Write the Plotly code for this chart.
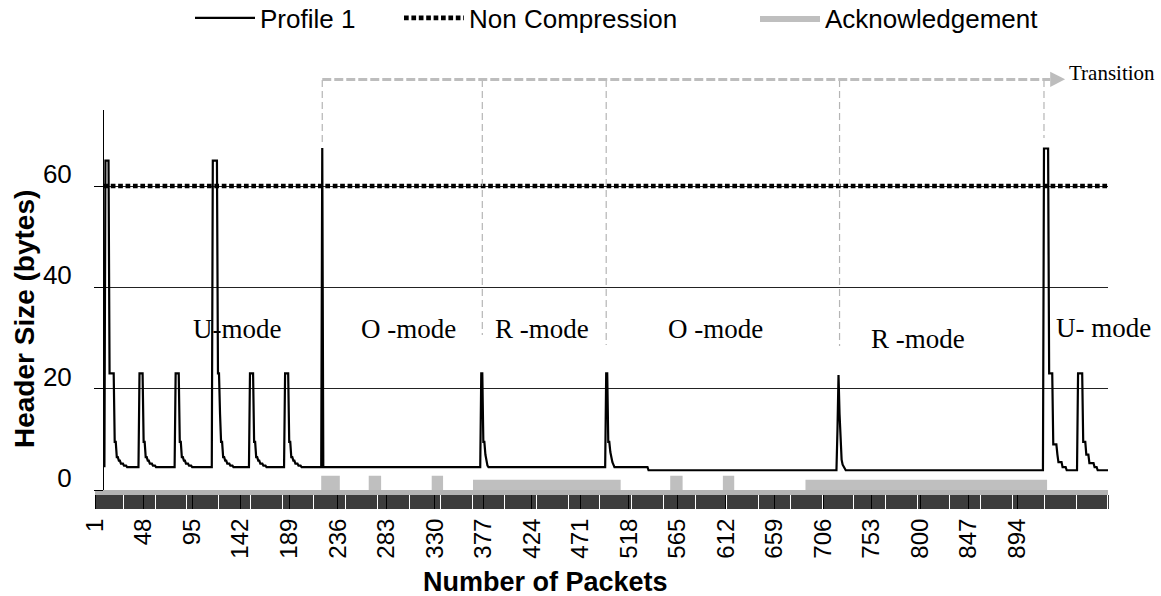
import plotly.graph_objects as go

# ---------------- data ----------------
N_PACKETS = 982
tick_labels = [1, 48, 95, 142, 189, 236, 283, 330, 377, 424, 471, 518,
               565, 612, 659, 706, 753, 800, 847, 894]
y_ticks = [0, 20, 40, 60]

# Profile 1 header size (bytes), run-length: (first packet of run, value)
profile_runs = [
    (10, 4.5), (11, 65), (15, 23), (20, 9.5), (22, 6.5), (24, 5.8), (26, 5.2), (29, 4.8), (32, 4.5),
    (44, 23), (48, 9.5), (50, 6.5), (52, 5.8), (54, 5.2), (57, 4.8), (60, 4.5),
    (79, 23), (83, 9.5), (85, 6.5), (87, 5.8), (89, 5.2), (92, 4.8), (95, 4.5),
    (115, 65), (120, 23), (122, 15), (123, 9.5), (125, 6.5), (127, 5.8), (129, 5.2), (132, 4.8), (135, 4.5),
    (151, 23), (155, 9.5), (157, 6.5), (159, 5.8), (161, 5.2), (164, 4.8), (167, 4.5),
    (185, 23), (189, 9.5), (191, 6.5), (193, 5.8), (195, 5.2), (198, 4.8), (201, 4.5),
    (221, 67.5), (222, 4.5),
    (375, 23), (377, 9.5), (379, 7), (380, 5.5), (381, 4.8), (382, 4.5),
    (496, 23), (498, 9.5), (500, 7.5), (501, 6.2), (502, 5.5), (503, 5.0), (504, 4.5),
    (537, 3.9),
    (720, 12), (721, 22.7), (722, 15), (723, 8), (724, 6), (725, 5), (726, 4.5), (727, 4.2), (728, 3.9),
    (920, 67.4), (925, 23), (929, 9), (933, 7), (934, 5.5), (938, 4.5), (942, 3.9),
    (953, 23), (958, 9.5), (961, 7), (964, 5.3), (969, 4.5), (972, 3.9),
]
NON_COMPRESSION = 60
noncomp_start = 9
# Acknowledgement blocks: (first packet, last packet, level)
ack_blocks = [(220, 237, 2.8), (266, 277, 2.8), (327, 337, 2.8), (367, 509, 2.0),
              (558, 569, 2.8), (609, 619, 2.8), (689, 922, 2.0)]
transitions = [221, 376, 496, 722, 920]
mode_labels = ["U-mode", "O -mode", "R -mode", "O -mode", "R -mode", "U- mode"]
mode_label_packets = [138, 305, 434, 602, 798, 978]
mode_label_values = [31.7, 31.7, 31.7, 31.7, 29.8, 32.0]

# ---------------- build series ----------------
prof_x, prof_y = [], []
run_i = 0
for p in range(profile_runs[0][0], N_PACKETS + 1):
    while run_i + 1 < len(profile_runs) and profile_runs[run_i + 1][0] <= p:
        run_i += 1
    prof_x.append(p)
    prof_y.append(profile_runs[run_i][1])

nc_x = list(range(noncomp_start, N_PACKETS + 1))
nc_y = [NON_COMPRESSION] * len(nc_x)

ack_x = list(range(1, N_PACKETS + 1))
ack_y = [0.0] * N_PACKETS
for a, b, lvl in ack_blocks:
    for p in range(a, b + 1):
        ack_y[p - 1] = lvl

# ---------------- layout geometry ----------------
W, H = 1161, 596
ML, MR, MT, MB = 95, 53, 110, 106
PW, PH = W - ML - MR, H - MT - MB

def px_to_py(Y):
    return (H - MB - Y) / PH

def px_to_px(X):
    return (X - ML) / PW

SANS = "Liberation Sans, Arial, sans-serif"
SERIF = "Liberation Serif, Times New Roman, serif"

fig = go.Figure()
fig.add_trace(go.Scatter(
    x=ack_x, y=ack_y, name="Acknowledgement", mode="lines",
    line=dict(shape="hv", width=0, color="#bfbfbf"),
    fill="tozeroy", fillcolor="#bfbfbf", legend="legend3"))
fig.add_trace(go.Scatter(
    x=nc_x, y=nc_y, name="Non Compression", mode="lines",
    line=dict(color="black", width=4.6, dash="4.7px,2.7px"), legend="legend2"))
fig.add_trace(go.Scatter(
    x=prof_x, y=prof_y, name="Profile 1", mode="lines",
    line=dict(color="black", width=2.2), legend="legend"))

shapes = []
# transition dashed verticals
trans_bottom_px = [145, 335, 345, 346, 138]
for t, yb in zip(transitions, trans_bottom_px):
    shapes.append(dict(type="line", xref="x", yref="paper", x0=t, x1=t,
                       y0=px_to_py(80), y1=px_to_py(yb),
                       line=dict(color="#b5b5b5", width=1.2, dash="7px,4px")))
# horizontal transition arrow line
shapes.append(dict(type="line", xref="x", yref="paper", x0=transitions[0], x1=926,
                   y0=px_to_py(79.5), y1=px_to_py(79.5),
                   line=dict(color="#bdbdbd", width=3, dash="9px,3px")))
shapes.append(dict(type="path", xref="x", yref="paper",
                   path=f"M926,{px_to_py(71.7)} L940.5,{px_to_py(79.3)} L926,{px_to_py(86.9)} Z",
                   fillcolor="#bdbdbd", line=dict(width=0)))

annotations = []
for txt, xp, yv in zip(mode_labels, mode_label_packets, mode_label_values):
    annotations.append(dict(text=txt, x=xp, y=yv, xref="x", yref="y", showarrow=False,
                            font=dict(family=SERIF, size=27, color="black"),
                            xanchor="center", yanchor="middle"))
annotations.append(dict(text="Transition", x=px_to_px(1067), y=px_to_py(72.5),
                        xref="paper", yref="paper", showarrow=False, xanchor="left",
                        yanchor="middle", font=dict(family=SERIF, size=21, color="black")))
annotations.append(dict(text="Number of Packets", x=px_to_px(545.5), y=px_to_py(582),
                        xref="paper", yref="paper", showarrow=False, xanchor="center",
                        yanchor="middle",
                        font=dict(family=SANS, size=27, color="black", weight="bold")))
annotations.append(dict(text="Header Size (bytes)", x=px_to_px(24), y=px_to_py(319),
                        xref="paper", yref="paper", showarrow=False, xanchor="center",
                        yanchor="middle", textangle=-90,
                        font=dict(family=SANS, size=28, color="black", weight="bold")))

leg_common = dict(orientation="h", yanchor="middle", xanchor="left", itemwidth=60,
                  font=dict(family=SANS, size=26, color="black"),
                  bgcolor="rgba(0,0,0,0)", borderwidth=0)
LEG_Y = px_to_py(18)

fig.update_layout(
    width=W, height=H,
    margin=dict(l=ML, r=MR, t=MT, b=MB, autoexpand=False),
    paper_bgcolor="white", plot_bgcolor="white",
    showlegend=True,
    legend=dict(x=px_to_px(190), y=LEG_Y, **leg_common),
    legend2=dict(x=px_to_px(399), y=LEG_Y, **leg_common),
    legend3=dict(x=px_to_px(755), y=LEG_Y, **leg_common),
    xaxis=dict(range=[0.9, N_PACKETS], tickmode="array", tickvals=tick_labels,
               ticktext=[str(v) for v in tick_labels], tickangle=-90,
               tickfont=dict(family=SANS, size=24, color="black"),
               ticks="outside", ticklen=14, tickcolor="black", tickwidth=1,
               showline=True, linecolor="#b3b3b3", linewidth=5,
               showgrid=False, zeroline=False,
               minor=dict(dtick=1, tick0=1, ticks="outside", ticklen=14,
                          tickcolor="#3c3c3c", tickwidth=0.55, showgrid=False)),
    yaxis=dict(range=[0, 75], anchor="free", position=px_to_px(103),
               tickmode="array", tickvals=y_ticks, ticktext=[str(v) for v in y_ticks],
               tickfont=dict(family=SANS, size=26, color="black"),
               ticks="outside", ticklen=9, tickcolor="black", tickwidth=1,
               ticklabelshift=-12, ticklabelstandoff=17,
               showline=True, linecolor="black", linewidth=1,
               showgrid=True, gridcolor="#222222", gridwidth=1, zeroline=False),
    shapes=shapes, annotations=annotations,
)

fig.write_html("out.html", config={"displayModeBar": False},
               post_script="document.body.style.margin='0';")
